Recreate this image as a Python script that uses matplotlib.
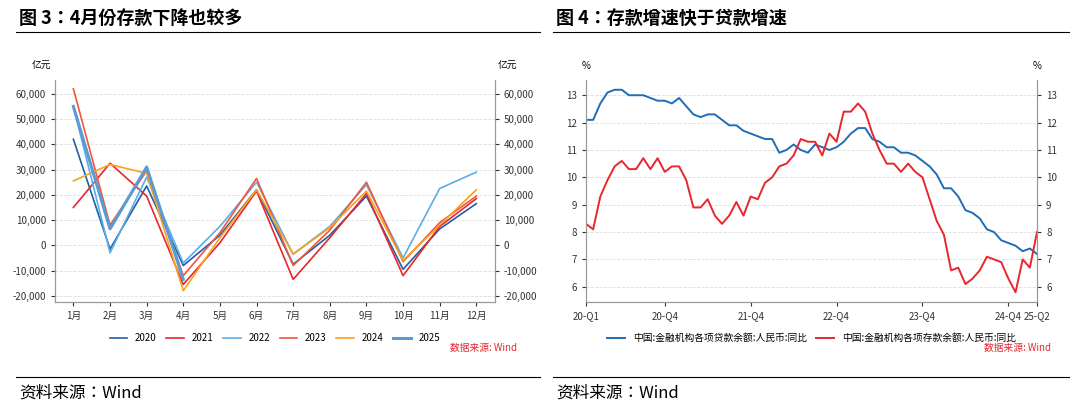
import matplotlib
matplotlib.use("Agg")
import matplotlib.pyplot as plt
from matplotlib import font_manager
from matplotlib.lines import Line2D

# 找一个可用的中文字体
cjk = None
for f in font_manager.findSystemFonts():
    if "CJK" in f or "cjk" in f.lower():
        try:
            font_manager.fontManager.addfont(f)
            name = font_manager.FontProperties(fname=f).get_name()
            if cjk is None or "SC" in name:
                cjk = name
        except Exception:
            pass
plt.rcParams["font.family"] = [cjk or "Noto Sans CJK SC", "DejaVu Sans"]
plt.rcParams["axes.unicode_minus"] = False

# 左图：各年份每月新增存款（亿元）
months = ["1月", "2月", "3月", "4月", "5月", "6月", "7月", "8月", "9月", "10月", "11月", "12月"]
years = ["2020", "2021", "2022", "2023", "2024", "2025"]
dep_2020 = [42000, -1500, 23500, -8000, 4000, 22000, -7500, 4000, 19500, -9500, 6500, 16500]
dep_2021 = [15000, 32500, 19500, -15500, 1000, 21500, -13500, 3000, 20500, -12000, 7500, 18500]
dep_2022 = [55000, -3000, 27000, -7000, 7500, 25000, -3500, 7500, 24000, -5000, 22500, 29000]
dep_2023 = [62000, 8000, 29500, -12000, 5000, 26500, -8000, 6000, 25000, -6500, 9000, 19500]
dep_2024 = [25500, 32000, 28500, -18000, 3000, 22000, -3500, 7000, 21500, -6000, 8000, 22000]
dep_2025 = [55000, 6500, 31000, -13500]
year_colors = ["#1f5fa8", "#e8262c", "#5aaee8", "#f4553a", "#f9a21b", "#5b9bd5"]

# 右图：贷款/存款余额同比（%），2020-01 至 2025-04
loan_yoy = [12.1, 12.1, 12.7, 13.1, 13.2, 13.2, 13.0, 13.0, 13.0, 12.9, 12.8, 12.8,
            12.7, 12.9, 12.6, 12.3, 12.2, 12.3, 12.3, 12.1, 11.9, 11.9, 11.7, 11.6,
            11.5, 11.4, 11.4, 10.9, 11.0, 11.2, 11.0, 10.9, 11.2, 11.1, 11.0, 11.1,
            11.3, 11.6, 11.8, 11.8, 11.4, 11.3, 11.1, 11.1, 10.9, 10.9, 10.8, 10.6,
            10.4, 10.1, 9.6, 9.6, 9.3, 8.8, 8.7, 8.5, 8.1, 8.0, 7.7, 7.6,
            7.5, 7.3, 7.4, 7.2]
dep_yoy = [8.3, 8.1, 9.3, 9.9, 10.4, 10.6, 10.3, 10.3, 10.7, 10.3, 10.7, 10.2,
           10.4, 10.4, 9.9, 8.9, 8.9, 9.2, 8.6, 8.3, 8.6, 9.1, 8.6, 9.3,
           9.2, 9.8, 10.0, 10.4, 10.5, 10.8, 11.4, 11.3, 11.3, 10.8, 11.6, 11.3,
           12.4, 12.4, 12.7, 12.4, 11.6, 11.0, 10.5, 10.5, 10.2, 10.5, 10.2, 10.0,
           9.2, 8.4, 7.9, 6.6, 6.7, 6.1, 6.3, 6.6, 7.1, 7.0, 6.9, 6.3,
           5.8, 7.0, 6.7, 8.0]
q_tick_pos = [0, 11, 23, 35, 47, 59, 63]
q_tick_labels = ["20-Q1", "20-Q4", "21-Q4", "22-Q4", "23-Q4", "24-Q4", "25-Q2"]

fig = plt.figure(figsize=(10.8, 4.05), dpi=100)

# 标题与页眉页脚线
fig.text(0.018, 0.955, "图 3：4月份存款下降也较多", fontsize=13, fontweight="bold", va="center")
fig.text(0.515, 0.955, "图 4：存款增速快于贷款增速", fontsize=13, fontweight="bold", va="center")
fig.text(0.018, 0.03, "资料来源：Wind", fontsize=12, va="center")
fig.text(0.515, 0.03, "资料来源：Wind", fontsize=12, va="center")
for x0, x1 in [(0.015, 0.5), (0.512, 0.99)]:
    fig.add_artist(Line2D([x0, x1], [0.922, 0.922], color="black", lw=0.8))
    fig.add_artist(Line2D([x0, x1], [0.07, 0.07], color="black", lw=0.8))


def style(ax, ax2):
    for a in (ax, ax2):
        a.spines["top"].set_visible(False)
        for s in ["left", "right", "bottom"]:
            a.spines[s].set_color("#999999")
        a.tick_params(labelsize=7, colors="#333333", length=3)
    ax.grid(axis="y", color="#dddddd", ls="--", lw=0.6)


# 左图
ax1 = fig.add_axes([0.051, 0.254, 0.407, 0.548])
all_dep = [dep_2020, dep_2021, dep_2022, dep_2023, dep_2024, dep_2025]
for yr, vals, c in zip(years, all_dep, year_colors):
    lw = 2.2 if yr == "2025" else 1.2
    ax1.plot(range(len(vals)), vals, color=c, lw=lw, label=yr)
ax1.set_xlim(-0.5, 11.5)
ax1.set_ylim(-22500, 65400)
ax1.set_xticks(range(12))
ax1.set_xticklabels(months)
yt = list(range(-20000, 60001, 10000))
ax1.set_yticks(yt)
ax1.set_yticklabels([f"{v:,}" for v in yt])
ax1b = ax1.twinx()
ax1b.set_ylim(ax1.get_ylim())
ax1b.set_yticks(yt)
ax1b.set_yticklabels([f"{v:,}" for v in yt])
style(ax1, ax1b)
ax1.text(-0.03, 1.05, "亿元", transform=ax1.transAxes, fontsize=7, ha="center")
ax1.text(1.03, 1.05, "亿元", transform=ax1.transAxes, fontsize=7, ha="center")
ax1.legend(loc="upper center", bbox_to_anchor=(0.5, -0.1), ncol=6, frameon=False,
           fontsize=7, handlelength=1.8, columnspacing=1.0)
ax1.text(1.05, -0.22, "数据来源: Wind", transform=ax1.transAxes, fontsize=7,
         color="#e8262c", ha="right")

# 右图
ax2 = fig.add_axes([0.5426, 0.254, 0.4176, 0.548])
ax2.plot(range(len(loan_yoy)), loan_yoy, color="#1f6db8", lw=1.4,
         label="中国:金融机构各项贷款余额:人民币:同比")
ax2.plot(range(len(dep_yoy)), dep_yoy, color="#e8262c", lw=1.4,
         label="中国:金融机构各项存款余额:人民币:同比")
ax2.set_xlim(0, 63)
ax2.set_ylim(5.44, 13.55)
ax2.set_xticks(q_tick_pos)
ax2.set_xticklabels(q_tick_labels)
ax2.set_yticks(range(6, 14))
ax2b = ax2.twinx()
ax2b.set_ylim(ax2.get_ylim())
ax2b.set_yticks(range(6, 14))
style(ax2, ax2b)
ax2.text(0.0, 1.05, "%", transform=ax2.transAxes, fontsize=7, ha="center")
ax2.text(1.0, 1.05, "%", transform=ax2.transAxes, fontsize=7, ha="center")
ax2.legend(loc="upper center", bbox_to_anchor=(0.5, -0.1), ncol=2, frameon=False,
           fontsize=7, handlelength=1.8, columnspacing=1.0)
ax2.text(1.03, -0.22, "数据来源: Wind", transform=ax2.transAxes, fontsize=7,
         color="#e8262c", ha="right")

fig.savefig("out.png", dpi=100)
